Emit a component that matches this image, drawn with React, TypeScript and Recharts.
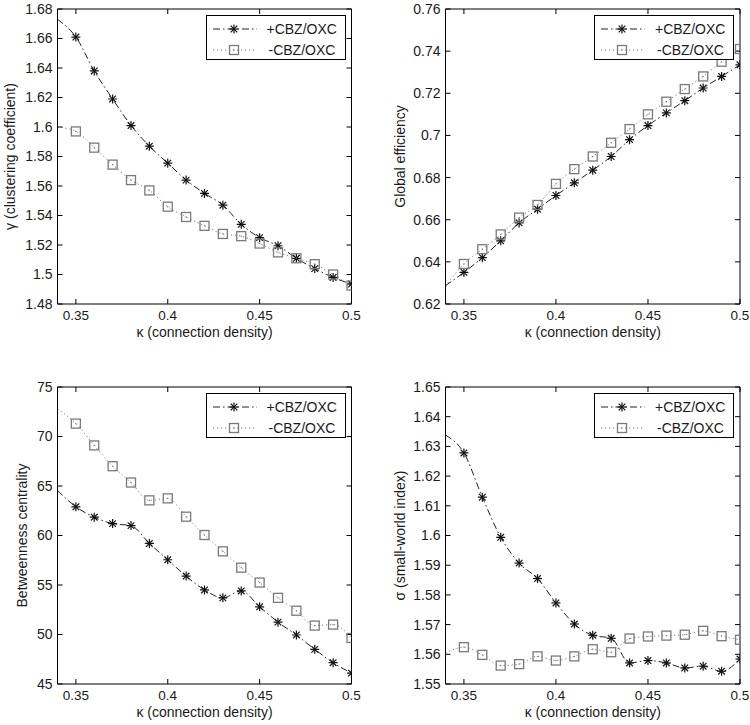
import React from 'react';
import { LineChart, Line, XAxis, YAxis, Legend } from 'recharts';

// connection density (first point only carries the line to the left edge, no marker)
const kappa = [0.34, 0.35, 0.36, 0.37, 0.38, 0.39, 0.4, 0.41, 0.42, 0.43, 0.44, 0.45, 0.46, 0.47, 0.48, 0.49, 0.5];
const xTicks = [0.35, 0.4, 0.45, 0.5];

const gammaPlus = [1.673, 1.661, 1.638, 1.619, 1.601, 1.587, 1.5755, 1.564, 1.555, 1.547, 1.534, 1.525, 1.5195, 1.511, 1.504, 1.498, 1.4935];
const gammaMinus = [1.6, 1.597, 1.586, 1.5745, 1.564, 1.557, 1.546, 1.539, 1.533, 1.5275, 1.526, 1.521, 1.515, 1.511, 1.507, 1.5, 1.4925];
const gammaTicks = [1.48, 1.5, 1.52, 1.54, 1.56, 1.58, 1.6, 1.62, 1.64, 1.66, 1.68];

const effPlus = [0.6287, 0.635, 0.642, 0.650, 0.6585, 0.665, 0.6715, 0.6775, 0.6835, 0.69, 0.698, 0.7047, 0.7107, 0.7165, 0.7225, 0.728, 0.7335];
const effMinus = [0.6285, 0.639, 0.646, 0.653, 0.661, 0.667, 0.677, 0.684, 0.690, 0.6965, 0.703, 0.710, 0.716, 0.722, 0.728, 0.735, 0.741];
const effTicks = [0.62, 0.64, 0.66, 0.68, 0.7, 0.72, 0.74, 0.76];

const btwPlus = [64.55, 62.9, 61.85, 61.2, 61.0, 59.2, 57.55, 55.9, 54.5, 53.7, 54.4, 52.8, 51.25, 49.95, 48.5, 47.15, 46.1];
const btwMinus = [72.8, 71.3, 69.1, 67.0, 65.35, 63.55, 63.75, 61.9, 60.05, 58.4, 56.75, 55.25, 53.7, 52.4, 50.9, 51.0, 49.65];
const btwTicks = [45, 50, 55, 60, 65, 70, 75];

const swPlus = [1.6338, 1.6278, 1.6129, 1.5994, 1.5907, 1.5855, 1.5773, 1.5702, 1.5664, 1.5654, 1.5571, 1.5579, 1.5571, 1.5554, 1.556, 1.5543, 1.5584];
const swMinus = [1.5604, 1.5624, 1.5598, 1.5562, 1.5567, 1.5593, 1.5579, 1.5593, 1.5617, 1.5607, 1.5653, 1.566, 1.5663, 1.5666, 1.5679, 1.5661, 1.5649];
const swTicks = [1.55, 1.56, 1.57, 1.58, 1.59, 1.6, 1.61, 1.62, 1.63, 1.64, 1.65];

const seriesNames = ['+CBZ/OXC', '-CBZ/OXC'];

const FONT = '"Liberation Sans", Arial, Helvetica, sans-serif';
const TXT = '#1a1a1a';
const GREY = '#7a7a7a';

const fmt = (v: number) => String(Math.round(v * 1000) / 1000);

function StarDot(props: any) {
  const { cx, cy, index } = props;
  if (index === 0 || cx == null || cy == null) return <g />;
  const r = 4.5;
  const d = 3.3;
  return (
    <g stroke="#111" strokeWidth={1.2}>
      <line x1={cx - r} y1={cy} x2={cx + r} y2={cy} />
      <line x1={cx} y1={cy - r} x2={cx} y2={cy + r} />
      <line x1={cx - d} y1={cy - d} x2={cx + d} y2={cy + d} />
      <line x1={cx - d} y1={cy + d} x2={cx + d} y2={cy - d} />
    </g>
  );
}

function SquareDot(props: any) {
  const { cx, cy, index } = props;
  if (index === 0 || cx == null || cy == null) return <g />;
  return (
    <g>
      <rect x={cx - 4.5} y={cy - 4.5} width={9} height={9} fill="none" stroke={GREY} strokeWidth={1.3} />
      <rect x={cx - 0.6} y={cy - 0.6} width={1.2} height={1.2} fill={GREY} />
    </g>
  );
}

const LegendBox = () => (
  <div
    style={{
      boxSizing: 'border-box',
      width: 140,
      height: 45,
      border: '1px solid #000',
      background: '#fff',
      fontFamily: FONT,
      fontSize: 14,
      color: TXT,
      position: 'relative',
    }}
  >
    <svg width={56} height={44} style={{ position: 'absolute', left: 0, top: 0 }}>
      <line x1={6} y1={13} x2={50} y2={13} stroke="#222" strokeWidth={1} strokeDasharray="7 3 1.5 3" />
      <StarDot cx={27} cy={13} index={1} />
      <line x1={6} y1={34} x2={50} y2={34} stroke={GREY} strokeWidth={1} strokeDasharray="1.2 2.8" />
      <SquareDot cx={27} cy={34} index={1} />
    </svg>
    <div style={{ position: 'absolute', left: 60, top: 4, lineHeight: '18px' }}>{seriesNames[0]}</div>
    <div style={{ position: 'absolute', left: 62, top: 25, lineHeight: '18px' }}>{seriesNames[1]}</div>
  </div>
);

interface PanelProps {
  left: number;
  top: number;
  height: number;
  plotLeft: number;
  plotTop: number;
  plotRight: number;
  plotBottom: number;
  yDomain: [number, number];
  yTicks: number[];
  yTitle: string;
  yTitleX: number;
  plus: number[];
  minus: number[];
}

const Panel = (p: PanelProps) => {
  const width = 375;
  const rows = kappa.map((k, i) => ({ k, plus: p.plus[i], minus: p.minus[i] }));
  const xTitle = (props: any) => {
    const vb = props.viewBox;
    return (
      <text x={vb.x + vb.width / 2} y={vb.y + 28} textAnchor="middle" dominantBaseline="central" fontSize={14} fill={TXT} fontFamily={FONT}>
        κ (connection density)
      </text>
    );
  };
  const yTitle = (props: any) => {
    const vb = props.viewBox;
    const x = vb.x + p.yTitleX;
    const y = p.plotTop + (p.plotBottom - p.plotTop) / 2;
    return (
      <text x={x} y={y} transform={`rotate(-90 ${x} ${y})`} textAnchor="middle" dominantBaseline="central" fontSize={14} fill={TXT} fontFamily={FONT}>
        {p.yTitle}
      </text>
    );
  };
  const xTickStyle = { fill: TXT, fontSize: 13.5, fontFamily: FONT };
  const yTickStyle = { fill: TXT, fontSize: 14, fontFamily: FONT };
  return (
    <div style={{ position: 'absolute', left: p.left, top: p.top, width, height: p.height }}>
      <LineChart
        width={width}
        height={p.height}
        data={rows}
        margin={{ top: p.plotTop - 1, right: width - p.plotRight - 1, bottom: 0, left: 0 }}
      >
        <XAxis
          xAxisId="b"
          dataKey="k"
          type="number"
          domain={[0.34, 0.5]}
          ticks={xTicks}
          allowDataOverflow
          height={p.height - p.plotBottom}
          stroke="#000"
          tickSize={-5}
          tickMargin={11}
          tick={xTickStyle}
          tickFormatter={fmt}
          label={xTitle}
        />
        <XAxis
          xAxisId="t"
          orientation="top"
          dataKey="k"
          type="number"
          domain={[0.34, 0.5]}
          ticks={xTicks}
          allowDataOverflow
          height={1}
          stroke="#000"
          tickSize={-5}
          tick={() => <g />}
        />
        <YAxis
          yAxisId="l"
          type="number"
          domain={p.yDomain}
          ticks={p.yTicks}
          allowDataOverflow
          width={p.plotLeft}
          stroke="#000"
          tickSize={-5}
          tickMargin={10}
          tick={yTickStyle}
          tickFormatter={fmt}
          label={yTitle}
        />
        <YAxis
          yAxisId="r"
          orientation="right"
          type="number"
          domain={p.yDomain}
          ticks={p.yTicks}
          allowDataOverflow
          width={1}
          stroke="#000"
          tickSize={-5}
          tick={() => <g />}
        />
        <Line
          xAxisId="b"
          yAxisId="l"
          dataKey="plus"
          name={seriesNames[0]}
          type="monotone"
          stroke="#222"
          strokeWidth={1}
          strokeDasharray="7 3 1.5 3"
          dot={StarDot}
          activeDot={false}
          isAnimationActive={false}
        />
        <Line
          xAxisId="b"
          yAxisId="l"
          dataKey="minus"
          name={seriesNames[1]}
          type="monotone"
          stroke={GREY}
          strokeWidth={1}
          strokeDasharray="1.2 2.8"
          dot={SquareDot}
          activeDot={false}
          isAnimationActive={false}
        />
        <Legend
          layout="vertical"
          align="center"
          verticalAlign="middle"
          content={() => <LegendBox />}
          wrapperStyle={{ top: p.plotTop + 6, left: p.plotRight - 146, width: 140, height: 45 }}
        />
      </LineChart>
    </div>
  );
};

export default function App() {
  return (
    <div style={{ position: 'absolute', left: 0, top: 0, width: 750, height: 725, background: '#fff', fontFamily: FONT }}>
      <Panel
        left={0} top={0} height={360}
        plotLeft={57.5} plotTop={9} plotRight={351.5} plotBottom={304}
        yDomain={[1.48, 1.68]} yTicks={gammaTicks}
        yTitle="γ (clustering coefficient)" yTitleX={10}
        plus={gammaPlus} minus={gammaMinus}
      />
      <Panel
        left={375} top={0} height={360}
        plotLeft={70.5} plotTop={9} plotRight={365} plotBottom={304}
        yDomain={[0.62, 0.76]} yTicks={effTicks}
        yTitle="Global efficiency" yTitleX={25}
        plus={effPlus} minus={effMinus}
      />
      <Panel
        left={0} top={360} height={365}
        plotLeft={57.5} plotTop={27} plotRight={351.5} plotBottom={324}
        yDomain={[45, 75]} yTicks={btwTicks}
        yTitle="Betweenness centrality" yTitleX={22}
        plus={btwPlus} minus={btwMinus}
      />
      <Panel
        left={375} top={360} height={365}
        plotLeft={70.5} plotTop={27} plotRight={365} plotBottom={324}
        yDomain={[1.55, 1.65]} yTicks={swTicks}
        yTitle="σ (small-world index)" yTitleX={25}
        plus={swPlus} minus={swMinus}
      />
    </div>
  );
}
